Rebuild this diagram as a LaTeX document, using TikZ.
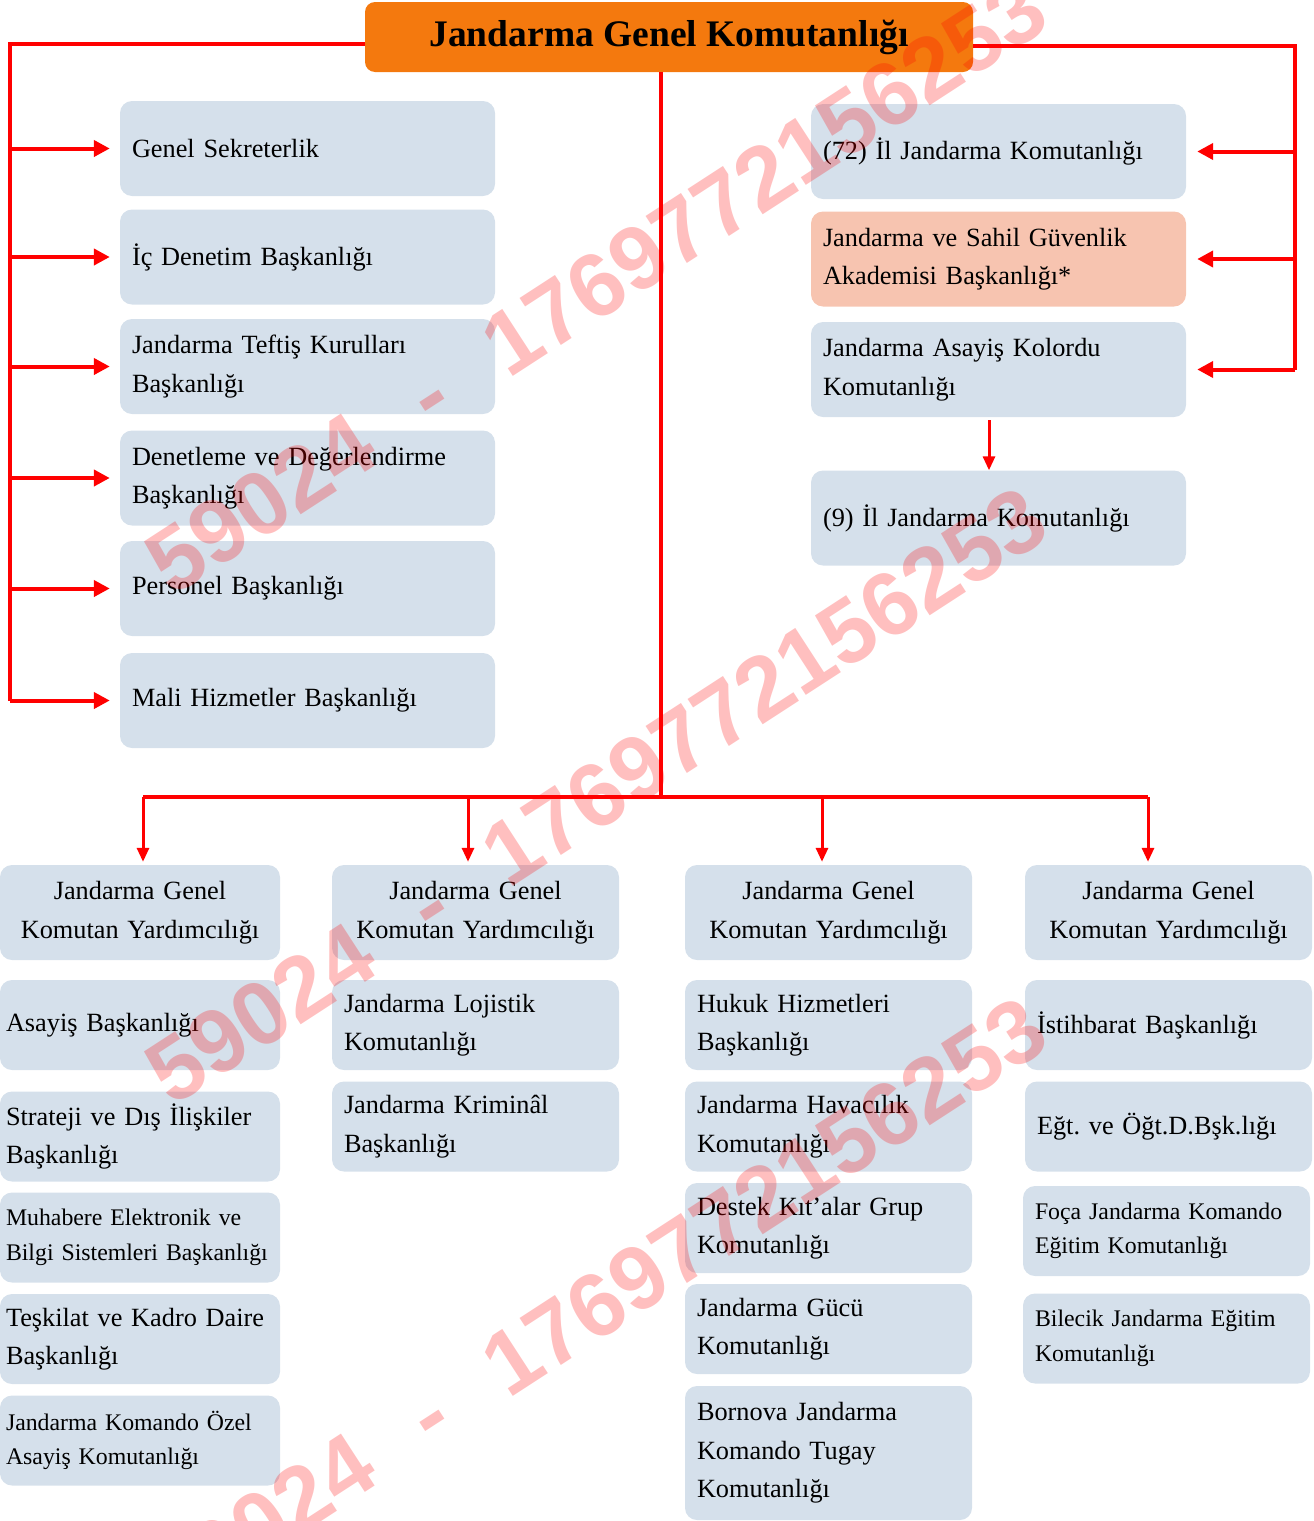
\documentclass[tikz,border=0pt]{standalone}
\usepackage{fontspec}
\setmainfont{Liberation Serif}
\newfontfamily\wmfont{Liberation Sans}
\usetikzlibrary{arrows.meta}
\frenchspacing
\definecolor{boxblue}{RGB}{213,224,235}
\definecolor{salmonfill}{RGB}{247,196,176}
\definecolor{titleorange}{RGB}{244,121,14}
\definecolor{linered}{RGB}{255,0,0}
\tikzset{
  bx/.style={fill=boxblue, rounded corners=12pt, inner xsep=12pt, inner ysep=0pt,
    align=left, font=\fontsize{26.3}{38.5}\selectfont, minimum height=95pt, text width=351pt},
  bxb/.style={bx, minimum height=90pt, text width=263pt},
  bxa/.style={bxb, inner xsep=6pt, text width=268pt},
  small/.style={font=\fontsize{23.8}{34.5}\selectfont},
  ctr/.style={align=center},
  titlebox/.style={fill=titleorange, rounded corners=10pt, minimum width=608pt,
    minimum height=70pt, inner sep=0pt, font=\fontsize{37.5}{40}\selectfont\bfseries},
  rline/.style={draw=linered, line width=4pt},
  rarr/.style={draw=linered, line width=4pt, -{Triangle[length=16pt,width=16pt]}},
  darr/.style={draw=linered, line width=3pt, -{Triangle[length=14pt,width=12pt]}},
  wm/.style={rotate=33, text=linered, opacity=0.25, inner sep=0pt,
    font=\wmfont\bfseries\fontsize{90}{90}\selectfont}
}
\begin{document}
\begin{tikzpicture}[x=1pt,y=-1pt]
\useasboundingbox (0,0) rectangle (1314,1521);
% title
\node[titlebox] (title) at (669,37) {Jandarma Genel Komutanlığı};
% left column
\node[bx] (gs) at (307.5,148.5) {Genel Sekreterlik};
\node[bx] (ic) at (307.5,257) {İç Denetim Başkanlığı};
\node[bx] (tk) at (307.5,366.5) {Jandarma Teftiş Kurulları\\Başkanlığı};
\node[bx] (dd) at (307.5,478) {Denetleme ve Değerlendirme\\Başkanlığı};
\node[bx] (pb) at (307.5,588.5) {Personel Başkanlığı};
\node[bx] (mh) at (307.5,700.5) {Mali Hizmetler Başkanlığı};
% right column
\node[bx] (il72) at (998.5,151.5) {(72) İl Jandarma Komutanlığı};
\node[bx, fill=salmonfill] (aka) at (998.5,259) {Jandarma ve Sahil Güvenlik\\Akademisi Başkanlığı*};
\node[bx] (kol) at (998.5,369.5) {Jandarma Asayiş Kolordu\\Komutanlığı};
\node[bx] (il9) at (998.5,518) {(9) İl Jandarma Komutanlığı};
% deputies
\node[bxa, ctr, minimum height=95pt] (y1) at (140,912.5) {Jandarma Genel\\Komutan Yardımcılığı};
\node[bxb, ctr, minimum height=95pt] (y2) at (475.5,912.5) {Jandarma Genel\\Komutan Yardımcılığı};
\node[bxb, ctr, minimum height=95pt] (y3) at (828.5,912.5) {Jandarma Genel\\Komutan Yardımcılığı};
\node[bxb, ctr, minimum height=95pt] (y4) at (1168.5,912.5) {Jandarma Genel\\Komutan Yardımcılığı};
% column 1
\node[bxa] (a1) at (140,1025) {Asayiş Başkanlığı};
\node[bxa] (a2) at (140,1136.5) {Strateji ve Dış İlişkiler\\Başkanlığı};
\node[bxa, small] (a3) at (140,1237.5) {Muhabere Elektronik ve\\Bilgi Sistemleri Başkanlığı};
\node[bxa] (a4) at (140,1339) {Teşkilat ve Kadro Daire\\Başkanlığı};
\node[bxa, small] (a5) at (140,1440.5) {Jandarma Komando Özel\\Asayiş Komutanlığı};
% column 2
\node[bxb] (b1) at (475.5,1025) {Jandarma Lojistik\\Komutanlığı};
\node[bxb] (b2) at (475.5,1126.5) {Jandarma Kriminâl\\Başkanlığı};
% column 3
\node[bxb] (c1) at (828.5,1025) {Hukuk Hizmetleri\\Başkanlığı};
\node[bxb] (c2) at (828.5,1126.5) {Jandarma Havacılık\\Komutanlığı};
\node[bxb] (c3) at (828.5,1228) {Destek Kıt’alar Grup\\Komutanlığı};
\node[bxb] (c4) at (828.5,1329) {Jandarma Gücü\\Komutanlığı};
\node[bxb, minimum height=134pt] (c5) at (828.5,1453) {Bornova Jandarma\\Komando Tugay\\Komutanlığı};
% column 4
\node[bxb] (d1) at (1168.5,1025) {İstihbarat Başkanlığı};
\node[bxb] (d2) at (1168.5,1126.5) {Eğt. ve Öğt.D.Bşk.lığı};
\node[bxb, small] (d3) at (1166.5,1231) {Foça Jandarma Komando\\Eğitim Komutanlığı};
\node[bxb, small] (d4) at (1166.5,1338.5) {Bilecik Jandarma Eğitim\\Komutanlığı};
% connectors left
\coordinate (lbus) at (10,44);
\draw[rline] ([yshift=-7pt]title.west) -| (lbus |- mh.west);
\foreach \b in {gs,ic,tk,dd,pb,mh}{
  \draw[rarr] (lbus |- \b.west) -- ([xshift=-10pt]\b.west);
}
% connectors right
\coordinate (rbus) at (1295,46);
\draw[rline] ([yshift=-9pt]title.east) -| (rbus |- kol.east);
\foreach \b in {il72,aka,kol}{
  \draw[rarr] (rbus |- \b.east) -- ([xshift=11pt]\b.east);
}
\draw[darr] ([xshift=-9.5pt,yshift=-3pt]kol.south) -- ([xshift=-9.5pt]il9.north);
% central trunk
\coordinate (hub) at (661,797);
\draw[rline] (title.south -| hub) -- (hub);
\draw[rline] ([xshift=3pt]y1.north |- hub) -- ([xshift=-20.5pt]y4.north |- hub);
\draw[darr] ([xshift=3pt]y1.north |- hub) -- ([xshift=3pt,yshift=3pt]y1.north);
\draw[darr] ([xshift=-7.5pt]y2.north |- hub) -- ([xshift=-7.5pt,yshift=3pt]y2.north);
\draw[darr] ([xshift=-6.5pt]y3.north |- hub) -- ([xshift=-6.5pt,yshift=3pt]y3.north);
\draw[darr] ([xshift=-20.5pt]y4.north |- hub) -- ([xshift=-20.5pt,yshift=3pt]y4.north);
% watermark
\foreach \yy [count=\i] in {598,1108,1618}{
  \node[wm, anchor=base west] (wm\i) at (172,\yy) {59024\hspace{0.67em}-\hspace{0.67em}1769772156253};
}
\end{tikzpicture}
\end{document}
